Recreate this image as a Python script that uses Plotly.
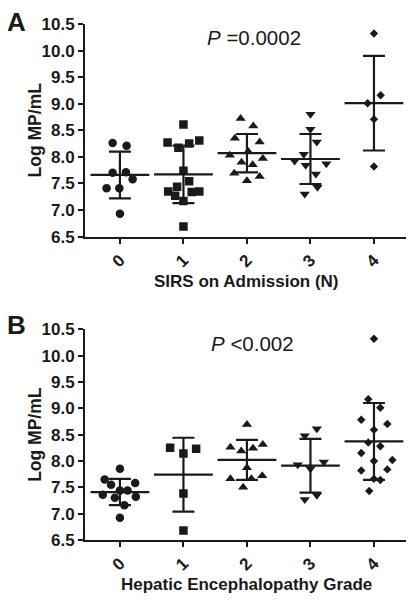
import plotly.graph_objects as go

# ---------------- data ----------------
GROUP_LABELS = ["0", "1", "2", "3", "4"]

# Panel A: SIRS on admission (N)
A0 = [8.26, 8.21, 7.70, 7.71, 7.58, 7.41, 7.41, 6.93]
A1 = [8.61, 8.27, 8.17, 8.25, 8.31, 7.74, 7.44, 7.54, 7.35, 7.27, 7.34, 7.35, 7.17, 6.69]
A2 = [8.72, 8.58, 8.35, 8.28, 8.03, 8.10, 7.97, 7.90, 7.85, 7.69, 7.55, 7.63]
A3 = [8.80, 8.52, 8.28, 8.05, 7.92, 7.84, 7.87, 7.68, 7.43, 7.30]
A4 = [10.32, 9.16, 9.01, 8.71, 7.82]
A_MEAN = [7.66, 7.67, 8.07, 7.96, 9.01]
A_SD = [0.44, 0.54, 0.36, 0.47, 0.89]

# Panel B: Hepatic encephalopathy grade
B0 = [7.85, 7.65, 7.55, 7.58, 7.44, 7.44, 7.36, 7.30, 7.32, 7.16, 6.92]
B1 = [8.25, 8.23, 8.14, 7.38, 6.68]
B2 = [8.69, 8.26, 8.19, 8.24, 8.31, 7.87, 7.66, 7.66, 7.72, 7.50]
B3 = [8.48, 8.61, 7.93, 7.85, 7.98, 7.27, 7.35]
B4 = [10.32, 9.17, 9.01, 8.78, 8.70, 8.59, 8.35, 8.28, 8.15, 8.00, 8.02,
      7.82, 7.84, 7.66, 7.64, 7.43]
B_MEAN = [7.41, 7.74, 8.02, 7.91, 8.37]
B_SD = [0.25, 0.70, 0.38, 0.51, 0.73]

Y_TICKS = [6.5, 7.0, 7.5, 8.0, 8.5, 9.0, 9.5, 10.0, 10.5]

# horizontal scatter (jitter) of the points within each column, in category units
JA0 = [-0.115, 0.105, -0.115, 0.095, 0.20, -0.21, -0.01, 0.0]
JA1 = [0.0, -0.25, -0.08, 0.09, 0.25, 0.0, -0.10, 0.09, -0.24, -0.13, 0.13, 0.25, 0.0, 0.0]
JA2 = [-0.10, 0.10, -0.19, 0.20, -0.27, 0.02, 0.25, -0.085, 0.09, -0.20, 0.0, 0.20]
JA3 = [0.0, 0.0, 0.10, -0.105, -0.25, -0.075, 0.25, 0.085, 0.11, -0.09]
JA4 = [0.0, 0.105, -0.10, 0.0, 0.0]
JB0 = [0.0, -0.24, -0.14, 0.24, 0.0, 0.12, -0.27, -0.08, 0.25, 0.07, 0.0]
JB1 = [-0.21, 0.20, 0.0, 0.0, 0.0]
JB2 = [0.0, -0.26, -0.09, 0.095, 0.25, 0.0, -0.26, 0.07, 0.24, -0.06]
JB3 = [-0.09, 0.10, -0.20, 0.0, 0.21, -0.09, 0.10]
JB4 = [0.0, -0.09, 0.10, -0.20, 0.21, 0.0, -0.09, 0.10, -0.20, 0.0, 0.29,
       -0.20, 0.21, 0.0, 0.10, -0.075]

# ---------------- styling ----------------
INK = "#1a1a1a"
FONT = "Liberation Sans, Arial, sans-serif"
SYMBOLS = ["circle", "square", "triangle-up", "triangle-down", "diamond"]
SIZES = [8.5, 8.5, 9, 9, 6.5]

fig = go.Figure()


def add_panel(groups, jitters, means, sds, xa, ya):
    for i, (vals, jit) in enumerate(zip(groups, jitters)):
        fig.add_trace(go.Scatter(
            x=[i + j for j in jit], y=vals, mode="markers",
            marker=dict(symbol=SYMBOLS[i], size=SIZES[i], color=INK, line=dict(width=0)),
            xaxis=xa, yaxis=ya, showlegend=False, hoverinfo="y"))
    fig.add_trace(go.Scatter(
        x=list(range(len(means))), y=means, mode="markers",
        marker=dict(symbol="line-ew", size=42, color=INK, line=dict(width=2.2, color=INK)),
        error_y=dict(type="data", array=sds, visible=True, width=11, thickness=2.2, color=INK),
        xaxis=xa, yaxis=ya, showlegend=False, hoverinfo="y"))


add_panel([A0, A1, A2, A3, A4], [JA0, JA1, JA2, JA3, JA4], A_MEAN, A_SD, "x", "y")
add_panel([B0, B1, B2, B3, B4], [JB0, JB1, JB2, JB3, JB4], B_MEAN, B_SD, "x2", "y2")

xaxis_common = dict(
    range=[-0.55, 4.52], tickmode="array", tickvals=list(range(5)), ticktext=GROUP_LABELS,
    tickangle=-45, showline=True, linecolor=INK, linewidth=2, ticks="outside",
    ticklen=5, tickwidth=2, tickcolor=INK, showgrid=False, zeroline=False,
    tickfont=dict(family=FONT, size=17, color=INK, weight="bold"), domain=[0, 1])
yaxis_common = dict(
    range=[6.5, 10.5], tickmode="array", tickvals=Y_TICKS,
    ticktext=[f"{v:.1f}" for v in Y_TICKS],
    showline=True, linecolor=INK, linewidth=2, ticks="outside", ticklen=5,
    tickwidth=2, tickcolor=INK, showgrid=False, zeroline=False,
    tickfont=dict(family=FONT, size=17, color=INK, weight="bold"))

# page body has an 8px default margin: size the figure so the plot lands where the reference has it
fig.update_layout(
    width=406, height=593,
    margin=dict(l=77, r=7, t=13, b=61),
    paper_bgcolor="white", plot_bgcolor="white",
    font=dict(family=FONT, color=INK),
    xaxis=dict(**xaxis_common, anchor="y"),
    yaxis=dict(**yaxis_common, domain=[0.588, 1.0], anchor="x"),
    xaxis2=dict(**xaxis_common, anchor="y2"),
    yaxis2=dict(**yaxis_common, domain=[0.0, 0.4085], anchor="x2"),
)

bold = dict(family=FONT, color=INK, weight="bold")
ann = [
    dict(text="A", x=-0.214, y=1.004, font=dict(**bold, size=26)),
    dict(text="B", x=-0.214, y=0.416, font=dict(**bold, size=26)),
    dict(text="Log MP/mL", x=-0.155, y=0.794, textangle=-90, font=dict(**bold, size=17.5)),
    dict(text="Log MP/mL", x=-0.155, y=0.204, textangle=-90, font=dict(**bold, size=17.5)),
    dict(text="SIRS on Admission (N)", x=0.50, y=0.501, font=dict(**bold, size=17)),
    dict(text="Hepatic Encephalopathy Grade", x=0.503, y=-0.0867, font=dict(**bold, size=17)),
    dict(text="<i>P</i> =0.0002", x=0.525, y=0.973, font=dict(family=FONT, color=INK, size=20.5)),
    dict(text="<i>P</i> <0.002", x=0.519, y=0.380, font=dict(family=FONT, color=INK, size=20.5)),
]
for a in ann:
    fig.add_annotation(xref="paper", yref="paper", showarrow=False,
                       xanchor="center", yanchor="middle", **a)

fig.write_html("out.html")
